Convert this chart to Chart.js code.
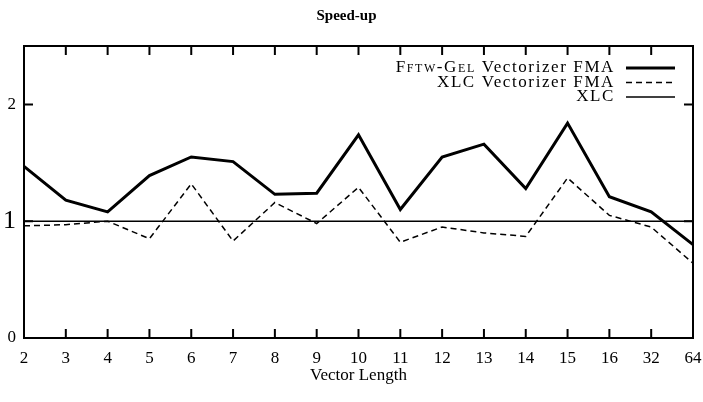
<!DOCTYPE html>
<html>
<head>
<meta charset="utf-8">
<script src="https://cdn.jsdelivr.net/npm/chart.js@4.4.0/dist/chart.umd.min.js"></script>
<style>
  html, body { margin: 0; padding: 0; background: #fff; }
  #wrap { width: 703px; height: 402px; }
</style>
</head>
<body>
<div id="wrap"><canvas id="speedChart" width="703" height="402"></canvas></div>
<script>
// data
const vectorLengths = ['2', '3', '4', '5', '6', '7', '8', '9', '10', '11', '12', '13', '14', '15', '16', '32', '64'];
const fftwGelFma = [1.47, 1.18, 1.08, 1.39, 1.55, 1.51, 1.23, 1.24, 1.74, 1.10, 1.55, 1.66, 1.28, 1.84, 1.21, 1.08, 0.80];
const xlcVecFma = [0.96, 0.97, 1.00, 0.85, 1.32, 0.83, 1.16, 0.98, 1.29, 0.82, 0.95, 0.90, 0.87, 1.37, 1.05, 0.95, 0.64];
const xlcBase = [1, 1, 1, 1, 1, 1, 1, 1, 1, 1, 1, 1, 1, 1, 1, 1, 1];
const yTicks = [0, 1, 2];

const serif = '"Liberation Serif", "DejaVu Serif", serif';

// frame, inward ticks and the key, drawn like gnuplot does
const framePlugin = {
    id: 'frame',
    afterDatasetsDraw(chart) {
        const ctx = chart.ctx;
        const a = chart.chartArea;
        const xs = chart.scales.x;
        const ys = chart.scales.y;
        ctx.save();
        ctx.strokeStyle = '#000';
        ctx.lineWidth = 2;
        ctx.strokeRect(a.left, a.top, a.right - a.left, a.bottom - a.top);

        ctx.beginPath();
        for (let i = 0; i < vectorLengths.length; i++) {
            const x = xs.getPixelForValue(i);
            ctx.moveTo(x, a.bottom); ctx.lineTo(x, a.bottom - 9);
            ctx.moveTo(x, a.top); ctx.lineTo(x, a.top + 9);
        }
        yTicks.forEach(v => {
            const y = ys.getPixelForValue(v);
            ctx.moveTo(a.left, y); ctx.lineTo(a.left + 9, y);
            ctx.moveTo(a.right, y); ctx.lineTo(a.right - 9, y);
        });
        ctx.stroke();

        // key
        ctx.textAlign = 'right';
        ctx.textBaseline = 'middle';
        ctx.fillStyle = '#000';
        ctx.letterSpacing = '1.6px';
        chart.data.datasets.forEach((ds, i) => {
            const y = a.top + 22 + i * 14.5;
            const right = a.right - 78;
            const cut = ds.label.indexOf(' ');
            if (i === 0) {
                // first word in small caps, the rest plain
                const rest = ds.label.slice(cut);
                ctx.font = '17px ' + serif;
                ctx.fillText(rest, right, y);
                const w = ctx.measureText(rest).width;
                ctx.font = 'small-caps 17px ' + serif;
                ctx.fillText(ds.label.slice(0, cut), right - w, y);
            } else {
                ctx.font = '17px ' + serif;
                ctx.fillText(ds.label, right, y);
            }
            ctx.beginPath();
            ctx.lineWidth = ds.borderWidth;
            ctx.setLineDash(ds.borderDash || []);
            ctx.moveTo(a.right - 67, y);
            ctx.lineTo(a.right - 18, y);
            ctx.stroke();
            ctx.setLineDash([]);
        });
        ctx.restore();
    }
};

const ctx = document.getElementById('speedChart').getContext('2d');
const speedChart = new Chart(ctx, {
    type: 'line',
    data: {
        labels: vectorLengths,
        datasets: [{
            label: 'Fftw-Gel Vectorizer FMA',
            data: fftwGelFma,
            borderColor: '#000',
            borderWidth: 3,
            pointRadius: 0,
            tension: 0
        }, {
            label: 'XLC Vectorizer FMA',
            data: xlcVecFma,
            borderColor: '#000',
            borderWidth: 1.5,
            borderDash: [6, 4],
            pointRadius: 0,
            tension: 0
        }, {
            label: 'XLC',
            data: xlcBase,
            borderColor: '#000',
            borderWidth: 1.5,
            pointRadius: 0,
            tension: 0
        }]
    },
    options: {
        responsive: false,
        animation: false,
        layout: { padding: { left: 0, right: 10, top: 0, bottom: 0 } },
        plugins: {
            legend: { display: false },
            tooltip: { enabled: false },
            title: {
                display: true,
                text: 'Speed-up',
                color: '#000',
                font: { family: serif, size: 15, weight: 'bold' },
                padding: { top: 7, bottom: 21 }
            }
        },
        scales: {
            x: {
                offset: false,
                grid: { display: false, drawTicks: false },
                border: { display: false },
                ticks: { color: '#000', font: { family: serif, size: 17 }, padding: 10, maxRotation: 0, autoSkip: false },
                title: { display: true, text: 'Vector Length', color: '#000', font: { family: serif, size: 17 }, padding: { top: 0, bottom: 16 } },
                afterFit(scale) {
                    scale.height = 64;
                    scale.paddingLeft = 0;
                    scale.paddingRight = 0;
                }
            },
            y: {
                min: 0,
                max: 2.5,
                grid: { display: false, drawTicks: false },
                border: { display: false },
                afterBuildTicks(scale) { scale.ticks = yTicks.map(v => ({ value: v })); },
                ticks: {
                    color: '#000',
                    padding: 8,
                    font: (c) => ({ family: serif, size: c.tick && c.tick.value === 1 ? 26 : 17 })
                },
                afterFit(scale) { scale.width = 24; }
            }
        }
    },
    plugins: [framePlugin]
});
</script>
</body>
</html>
